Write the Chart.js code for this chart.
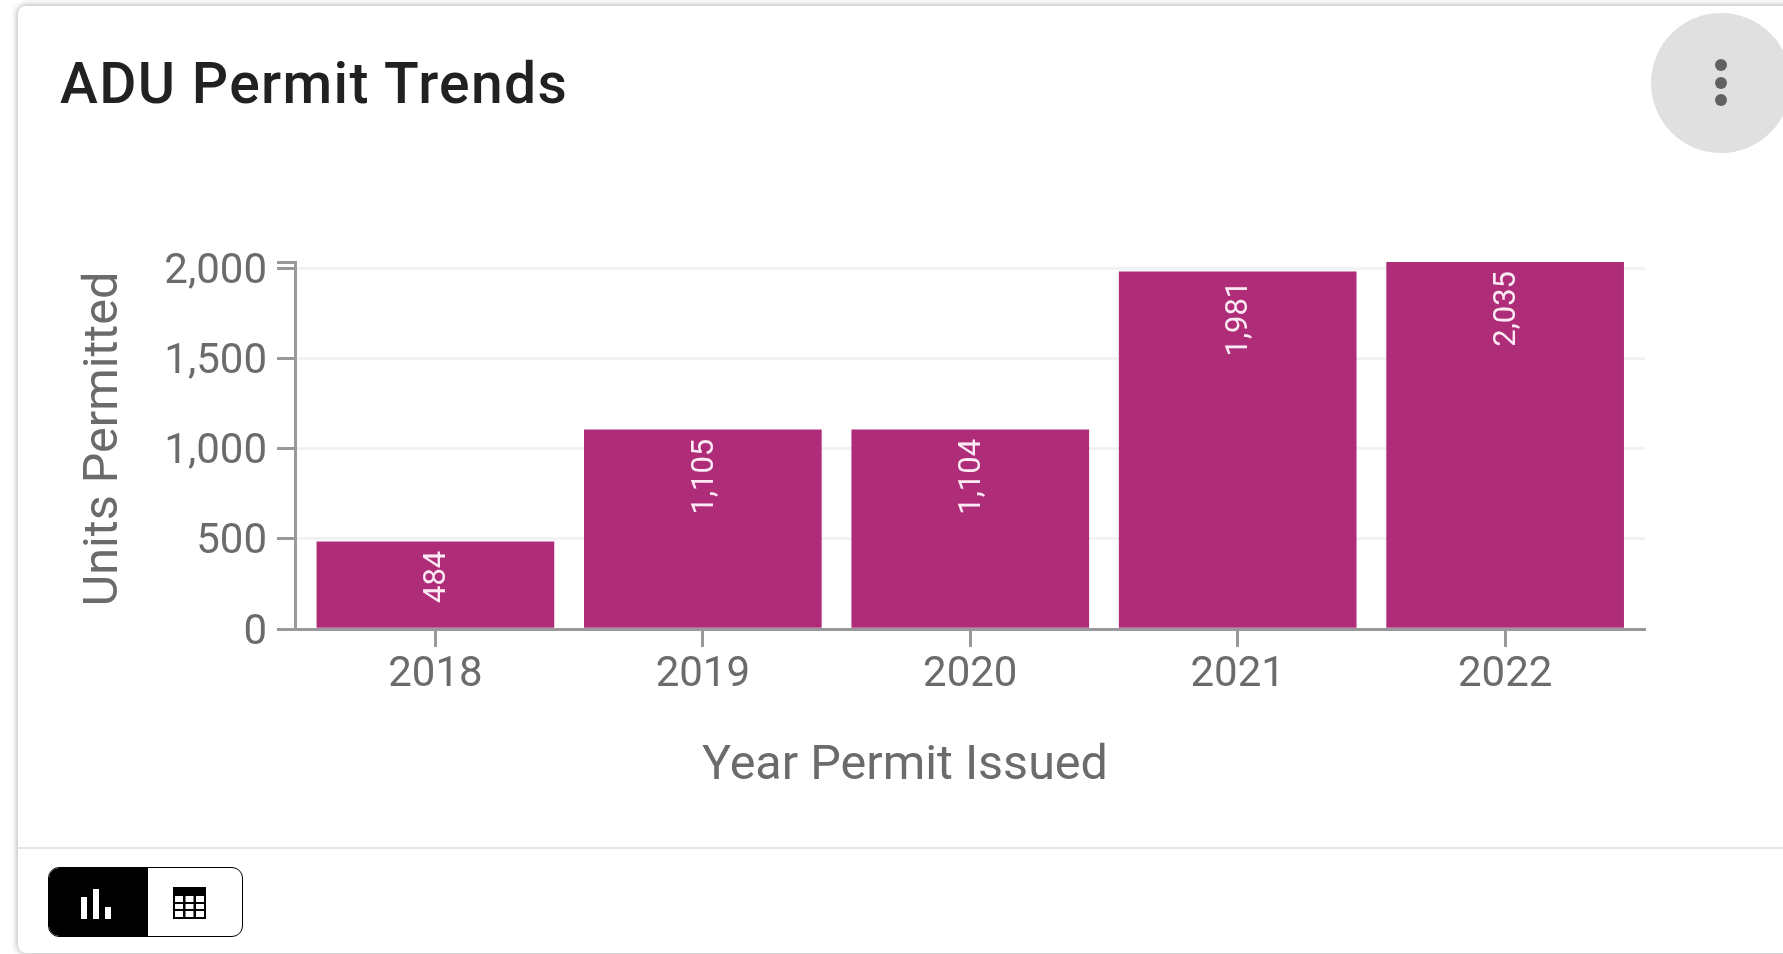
<!DOCTYPE html>
<html>
<head>
<meta charset="utf-8">
<title>ADU Permit Trends</title>
<script src="https://cdn.jsdelivr.net/npm/chart.js@4"></script>
<style>
  html, body { margin: 0; height: 100%; background: #fff; overflow: hidden; font-family: Roboto, sans-serif; }
  .card { position: absolute; left: 18px; top: 6px; width: 1900px; height: 947px; background: #fff;
          border-radius: 8px; box-shadow: 0 0 6px 1px rgba(0,0,0,.3); }
  h1 { position: absolute; left: 60px; top: 50px; margin: 0; font-size: 57px; letter-spacing: 1.35px; line-height: 68px; font-weight: 500; color: #212121; }
  #chart { position: absolute; left: 0; top: 0; }
  .menu { position: absolute; left: 1651px; top: 13px; width: 140px; height: 140px; border-radius: 50%; background: #e0e0e0; }
  .menu i { position: absolute; left: 64px; width: 12px; height: 12px; border-radius: 50%; background: #616161; }
  .divider { position: absolute; left: 18px; right: 0; top: 847px; height: 2px; background: #e6e6e6; }
  .toggle { position: absolute; left: 48px; top: 867px; width: 193px; height: 68px; border: 1px solid #000; border-radius: 11px; overflow: hidden; background: #fff; }
  .toggle .on { position: absolute; left: 0; top: 0; width: 99px; height: 100%; background: #000; }
  .toggle svg { position: absolute; }
</style>
</head>
<body>
<div class="card"></div>
<h1>ADU Permit Trends</h1>
<canvas id="chart" width="1783" height="954"></canvas>
<div class="menu"><i style="top:46px"></i><i style="top:64px"></i><i style="top:81px"></i></div>
<div class="divider"></div>
<div class="toggle">
  <div class="on">
    <svg style="left:31px;top:20px" width="34" height="31" fill="#fff">
      <rect x="1" y="9" width="6" height="22"/><rect x="13" y="1" width="6" height="30"/><rect x="25" y="19" width="6" height="12"/>
    </svg>
  </div>
  <svg style="left:124px;top:19px" width="33" height="32">
    <rect width="33" height="32" fill="#000"/>
    <g fill="#fff">
      <rect x="2" y="9" width="8" height="6"/><rect x="12.5" y="9" width="8" height="6"/><rect x="23" y="9" width="8" height="6"/>
      <rect x="2" y="17" width="8" height="5"/><rect x="12.5" y="17" width="8" height="5"/><rect x="23" y="17" width="8" height="5"/>
      <rect x="2" y="24" width="8" height="6"/><rect x="12.5" y="24" width="8" height="6"/><rect x="23" y="24" width="8" height="6"/>
    </g>
  </svg>
</div>
<script>
const years = [2018, 2019, 2020, 2021, 2022];
const units = [484, 1105, 1104, 1981, 2035];
const yTicks = [0, 500, 1000, 1500, 2000, 2035];
const xTitle = "Year Permit Issued";
const yTitle = "Units Permitted";

const axisGrey = "#999999";
const textGrey = "#6b6b6b";

// values on the bars, written sideways just under the top edge
const barLabels = {
  id: "barLabels",
  afterDatasetsDraw(chart) {
    const ctx = chart.ctx;
    chart.getDatasetMeta(0).data.forEach((bar, i) => {
      ctx.save();
      ctx.translate(bar.x + 2, bar.y + 9);
      ctx.rotate(-Math.PI / 2);
      ctx.font = "31px Roboto";
      ctx.fillStyle = "#fbe9f4";
      ctx.textAlign = "right";
      ctx.textBaseline = "middle";
      ctx.fillText(units[i].toLocaleString("en-US"), 0, 0);
      ctx.restore();
    });
  },
};

// axis titles sit off the plot centre, so they are placed here
const axisTitles = {
  id: "axisTitles",
  afterDraw(chart) {
    const ctx = chart.ctx;
    ctx.save();
    ctx.font = "48.5px Roboto";
    ctx.fillStyle = textGrey;
    ctx.textAlign = "center";
    ctx.textBaseline = "middle";
    ctx.fillText(xTitle, 905, 767);
    ctx.translate(105, 439);
    ctx.rotate(-Math.PI / 2);
    ctx.fillText(yTitle, 0, 0);
    ctx.restore();
  },
};

new Chart(document.getElementById("chart"), {
  type: "bar",
  data: {
    datasets: [
      {
        label: yTitle,
        data: years.map((year, i) => ({ x: year, y: units[i] })),
        backgroundColor: "#ae2c78",
        barThickness: 237,
      },
    ],
  },
  plugins: [barLabels, axisTitles],
  options: {
    responsive: false,
    animation: false,
    layout: { padding: { left: 60, top: 262, right: 138, bottom: 254 } },
    plugins: { legend: { display: false }, tooltip: { enabled: false } },
    scales: {
      x: {
        type: "linear",
        offset: false,
        min: 2017.475,
        max: 2022.523,
        afterBuildTicks: (scale) => {
          scale.ticks = years.map((value) => ({ value }));
        },
        afterFit: (scale) => {
          scale.height = 71;
        },
        ticks: {
          color: textGrey,
          font: { family: "Roboto", size: 42 },
          padding: 3,
          maxRotation: 0,
          autoSkip: false,
          callback: (value) => String(value),
        },
        grid: { display: true, offset: false, drawOnChartArea: false, tickLength: 18, tickColor: axisGrey, tickWidth: 3 },
        border: { color: axisGrey, width: 3 },
      },
      y: {
        min: 0,
        max: 2035,
        afterBuildTicks: (scale) => {
          scale.ticks = yTicks.map((value) => ({ value }));
        },
        afterFit: (scale) => {
          scale.width = 235;
        },
        ticks: {
          color: textGrey,
          font: { family: "Roboto", size: 42 },
          padding: 10,
          labelOffset: 4,
          autoSkip: false,
          callback: (value) => (value % 500 === 0 ? value.toLocaleString("en-US") : ""),
        },
        grid: {
          tickLength: 18,
          tickWidth: 3,
          tickColor: axisGrey,
          lineWidth: 3,
          color: (c) => (c.tick.value % 500 === 0 && c.tick.value > 0 ? "#f2f2f2" : "transparent"),
        },
        border: { color: axisGrey, width: 3 },
      },
    },
  },
});
</script>
</body>
</html>
